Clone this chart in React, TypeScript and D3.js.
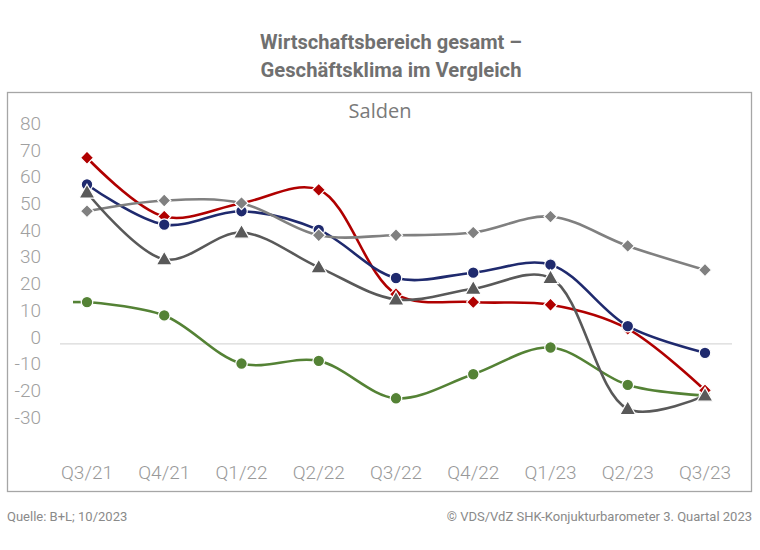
import React from "react";
import * as d3 from "d3";

const categories = ["Q3/21", "Q4/21", "Q1/22", "Q2/22", "Q3/22", "Q4/22", "Q1/23", "Q2/23", "Q3/23"];
const yTicks = [80, 70, 60, 50, 40, 30, 20, 10, 0, -10, -20, -30];

const greenValues = [13, 8, -10, -9, -23, -14, -4, -18, -22];
const redValues = [67, 45, 50, 55, 16, 13, 12, 3, -20];
const blueValues = [57, 42, 47, 40, 22, 24, 27, 4, -6];
const lightGrayValues = [47, 51, 50, 38, 38, 39, 45, 34, 25];
const darkGrayValues = [54, 29, 39, 26, 14, 18, 22, -27, -22];

type Series = { name: string; values: number[]; color: string; marker: "diamond" | "circle" | "triangle" };

const series: Series[] = [
  { name: "green", values: greenValues, color: "#548235", marker: "circle" },
  { name: "red", values: redValues, color: "#b00000", marker: "diamond" },
  { name: "blue", values: blueValues, color: "#1f2a6e", marker: "circle" },
  { name: "lightgray", values: lightGrayValues, color: "#808080", marker: "diamond" },
  { name: "darkgray", values: darkGrayValues, color: "#595959", marker: "triangle" },
];

export default function App() {
  const W = 760;
  const H = 550;
  const x = d3.scalePoint<string>().domain(categories).range([87, 705]);
  const y = d3.scaleLinear().domain([-30, 80]).range([417, 123]);
  const line = d3
    .line<number>()
    .x((_, i) => x(categories[i]) as number)
    .y((v) => y(v))
    .curve(d3.curveCatmullRom.alpha(0.5));

  const symbolFor = (m: Series["marker"]) => {
    if (m === "diamond") return d3.symbol().type(d3.symbolDiamond2).size(110)();
    if (m === "triangle") return d3.symbol().type(d3.symbolTriangle).size(110)();
    return d3.symbol().type(d3.symbolCircle).size(105)();
  };

  const font = "Roboto, 'Liberation Sans', sans-serif";

  return (
    <svg width={W} height={H} style={{ position: "absolute", left: 0, top: 0, background: "#fff" }}>
      <text x={391} y={49} textAnchor="middle" fontFamily={font} fontWeight={700} fontSize={21} fill="#707070" textLength={262} lengthAdjust="spacingAndGlyphs">
        Wirtschaftsbereich gesamt –
      </text>
      <text x={391} y={77} textAnchor="middle" fontFamily={font} fontWeight={700} fontSize={21} fill="#707070" textLength={261} lengthAdjust="spacingAndGlyphs">
        Geschäftsklima im Vergleich
      </text>

      <rect x={7.5} y={92.5} width={744} height={399} fill="#fff" stroke="#a6a6a6" strokeWidth={1.3} />

      <text x={380} y={118} textAnchor="middle" fontFamily="'Open Sans', sans-serif" fontSize={20} fill="#7a7a7a">
        Salden
      </text>

      {yTicks.map((t) => (
        <text key={t} x={41} y={y(t)} dy="0.36em" textAnchor="end" fontFamily={font} fontWeight={300} fontSize={19} fill="#a0a0a0">
          {t}
        </text>
      ))}

      <line x1={60} x2={732} y1={y(0) + 7} y2={y(0) + 7} stroke="#d9d9d9" strokeWidth={1.2} />

      {categories.map((c) => (
        <text key={c} x={x(c)} y={472} dy="0.36em" textAnchor="middle" fontFamily={font} fontWeight={300} fontSize={19} fill="#999">
          {c}
        </text>
      ))}

      <line
        x1={73}
        x2={x(categories[0]) as number}
        y1={y(greenValues[0])}
        y2={y(greenValues[0])}
        stroke="#548235"
        strokeWidth={2.6}
      />

      {series.map((s) => (
        <g key={s.name}>
          <path d={line(s.values) || ""} fill="none" stroke={s.color} strokeWidth={2.6} />
          {s.values.map((v, i) => (
            <path
              key={i}
              d={symbolFor(s.marker) || ""}
              transform={`translate(${x(categories[i])},${y(v) + (s.marker === "triangle" ? 1 : 0)})`}
              fill={s.color}
              stroke="#fff"
              strokeWidth={1.2}
            />
          ))}
        </g>
      ))}

      <text x={7} y={521} fontFamily={font} fontSize={13} fill="#8a8a8a">
        Quelle: B+L; 10/2023
      </text>
      <text x={752} y={521} textAnchor="end" fontFamily={font} fontSize={13} fill="#8a8a8a">
        © VDS/VdZ SHK-Konjukturbarometer 3. Quartal 2023
      </text>
    </svg>
  );
}
